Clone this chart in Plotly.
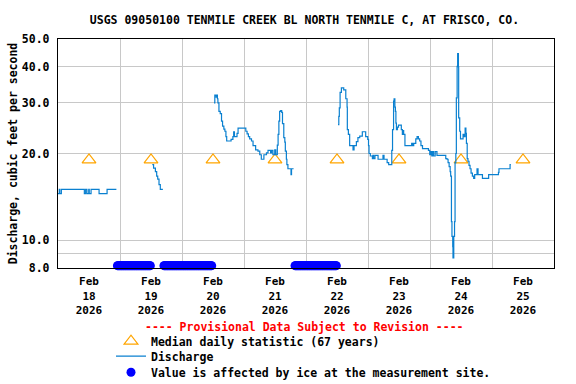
import numpy as np
import pandas as pd
import plotly.graph_objects as go

START = pd.Timestamp("2026-02-18 00:00")

# Discharge (cfs): hours after Feb 18 00:00, None = gap (ice-affected, no value)
q_hours = [
    0, 0.5, 0.7, 1.3, 10.2, 10.7, 11.2, 11.9, 12.1, 12.8, 15.9, 19.0, 22.6, 23.0,
    36.5, 37.0, 37.7, 38.2, 38.6, 39.1, 39.6, 40.6, 41.0,
    60.4, 60.7, 61.2, 61.4, 61.7, 61.9, 62.3, 62.8, 63.3, 63.7, 64.2, 64.6, 65.0, 65.3,
    67.0, 67.7, 68.0, 68.3, 69.3, 69.7, 72.7, 73.2, 73.7, 74.2, 74.9, 75.5, 76.5, 77.4,
    78.1, 78.7, 79.7, 80.7, 81.3, 82.3, 82.7, 83.2, 83.9, 84.3, 84.9, 85.2, 85.5, 85.8,
    86.2, 86.6, 86.9, 87.4, 87.8, 88.0, 88.4, 88.6, 89.0, 90.2, 90.4, 91.2, 91.6,
    108.4, 108.7, 108.9, 109.2, 109.7, 110.6, 111.4, 111.9, 112.0, 112.4, 112.9, 114.2,
    114.6, 115.5, 116.1, 116.8, 117.8, 119.1, 119.9, 120.2, 120.4, 120.9, 121.7, 121.9,
    122.2, 122.7, 123.9, 125.8, 126.2, 127.4, 128.0, 129.2, 129.5, 129.9, 130.1, 130.4,
    130.6, 130.8, 131.0, 131.4, 131.8, 132.9, 133.3, 133.6, 133.8, 134.3, 136.9, 137.3,
    137.7, 138.5, 139.0, 139.5, 140.0, 140.5, 141.1, 143.4, 143.9, 144.3, 144.7, 145.1,
    145.4, 146.0, 146.7, 150.1, 150.6, 151.0, 151.4, 151.8, 152.0, 152.3, 152.5, 152.8,
    152.9, 153.2, 153.5, 153.7, 154.0, 154.2, 154.5, 154.7, 155.0, 155.1, 155.5, 155.8,
    156.8, 157.2, 157.6, 157.9, 158.1, 158.4, 158.7, 159.1, 159.5, 159.9, 160.4, 160.9,
    161.3, 162.2, 162.6, 164.3, 166.7, 170.5, 170.7, 175.0, 175.3,
]
q_values = [
    14.5, 15.0, 14.5, 15.0, 14.5, 15.0, 14.5, 15.0, 14.5, 15.0, 14.5, 15.0, 15.0, None,
    18.3, 17.8, 17.3, 16.7, 16.3, 15.6, 15.0, 15.0, None,
    30.0, 31.9, 31.4, 31.9, 31.0, 30.0, 28.0, 27.5, 25.9, 24.9, 24.3, 23.9, 22.9, 22.1,
    22.4, 22.9, 23.8, 22.9, 23.5, 24.5, 23.9, 23.4, 22.9, 22.5, 22.1, 21.3, 20.6, 20.4,
    19.8, 19.1, 19.8, 20.1, 20.5, 20.1, 20.5, 19.8, 20.6, 19.8, 21.4, 23.3, 25.9, 28.0,
    28.2, 27.8, 25.4, 22.7, 21.9, 20.4, 19.1, 18.3, 17.7, 16.9, 17.7, 17.7, None,
    25.2, 26.9, 28.8, 32.6, 33.8, 33.3, 31.0, 29.0, 24.2, 23.3, 21.3, 20.6,
    21.3, 22.0, 22.7, 23.0, 23.8, 22.9, 22.4, 21.3, 20.0, 19.6, 19.2, 19.7,
    19.2, 19.7, 19.1, 19.7, 19.1, 18.6, 18.3, 20.5, 24.2, 30.4, 31.0, 29.0,
    28.0, 25.5, 24.2, 24.7, 25.1, 24.2, 23.3, 24.0, 23.3, 21.3, 21.7, 21.3,
    21.7, 22.5, 22.9, 22.5, 22.1, 21.3, 20.8, 20.5, 19.8, 20.3, 19.6, 20.3,
    19.6, 20.3, 19.7, 19.2, 19.1, 18.6, 18.0, 17.3, 16.7, 11.6, 10.3, 9.5,
    8.67, 10.3, 11.6, 18.6, 20.0, 31.2, 40.2, 44.5, 40.0, 26.6, 23.9, 22.5,
    23.3, 22.9, 24.5, 23.5, 21.7, 19.2, 18.8, 18.2, 17.7, 17.1, 16.7, 16.4,
    16.9, 17.7, 16.9, 16.4, 16.9, 17.2, 17.7, 18.3, 18.3,
]

# Median daily statistic (67 years), one per day, plotted at noon
median_days = ["2026-02-18", "2026-02-19", "2026-02-20", "2026-02-21",
               "2026-02-22", "2026-02-23", "2026-02-24", "2026-02-25"]
median_values = [19.0, 19.0, 19.0, 19.0, 19.0, 19.0, 19.0, 19.0]

# Ice-affected periods (start, end) at the 15-minute recording interval
ice_periods = [("2026-02-18 23:00", "2026-02-19 11:45"),
               ("2026-02-19 17:00", "2026-02-20 11:30"),
               ("2026-02-21 19:45", "2026-02-22 11:45")]
ice_level = 8.15

day_labels = ["Feb<br>18<br>2026", "Feb<br>19<br>2026", "Feb<br>20<br>2026", "Feb<br>21<br>2026",
              "Feb<br>22<br>2026", "Feb<br>23<br>2026", "Feb<br>24<br>2026", "Feb<br>25<br>2026"]
y_ticks = [8, 10, 20, 30, 40, 50]
y_ticktext = ["8.0", "10.0", "20.0", "30.0", "40.0", "50.0"]

FONT = "DejaVu Sans Mono"
GRID = "#C8C8C8"

q_times = [(START + pd.Timedelta(hours=h)).strftime("%Y-%m-%d %H:%M:%S") for h in q_hours]
median_times = [d + " 12:00" for d in median_days]
ice_times = []
for a, b in ice_periods:
    ice_times += [t.strftime("%Y-%m-%d %H:%M") for t in pd.date_range(a, b, freq="15min")]

fig = go.Figure()
fig.add_trace(go.Scatter(
    x=median_times, y=median_values, mode="markers",
    name="Median daily statistic (67 years)", legend="legend",
    marker=dict(symbol="triangle-up-open", size=12, color="#FFA500", line=dict(width=1.2, color="#FFA500")),
))
fig.add_trace(go.Scatter(
    x=q_times, y=q_values, mode="lines", name="Discharge", legend="legend2",
    line=dict(color="#0A80D0", width=1.2, shape="hv"), connectgaps=False,
))
fig.add_trace(go.Scatter(
    x=ice_times, y=[ice_level] * len(ice_times), mode="markers",
    name="Value is affected by ice at the measurement site.", legend="legend3",
    marker=dict(symbol="circle", size=9, color="#0000FF"), cliponaxis=False,
))

H = 229.0
def leg(top_px):
    return dict(x=(111 - 58) / 496, y=-(top_px - 268.3) / H,
                yanchor="top", xanchor="left", orientation="v",
                font=dict(family=FONT, size=11.5, color="black", weight="bold"),
                bgcolor="rgba(0,0,0,0)")

fig.update_layout(
    width=576, height=384,
    margin=dict(l=58, r=22, t=39, b=116, autoexpand=False),
    paper_bgcolor="white", plot_bgcolor="white",
    font=dict(family=FONT, size=11, color="black", weight="bold"),
    title=dict(text="USGS 09050100 TENMILE CREEK BL NORTH TENMILE C, AT FRISCO, CO.",
               x=0.5286, xanchor="center", y=1 - 19.5 / 384, yanchor="middle", yref="container",
               font=dict(family=FONT, size=11.5, color="black", weight="bold")),
    showlegend=True,
    legend=leg(327), legend2=leg(342), legend3=leg(358),
    annotations=[dict(text="---- Provisional Data Subject to Revision ----",
                      xref="paper", yref="paper", x=(304 - 58) / 496, y=-(327 - 268.3) / H,
                      showarrow=False, xanchor="center", yanchor="middle",
                      font=dict(family=FONT, size=11.5, color="red", weight="bold"))],
)
fig.update_xaxes(
    type="date", range=["2026-02-18", "2026-02-26"],
    tickmode="array", tickvals=median_times, ticktext=day_labels, ticks="",
    ticklabelstandoff=3,
    showgrid=False, zeroline=False,
    minor=dict(tick0="2026-02-18", dtick=86400000, showgrid=True, gridcolor=GRID, gridwidth=1, ticks=""),
    showline=True, linecolor="black", linewidth=1.3, mirror=True,
    tickfont=dict(family=FONT, size=11, color="black", weight="bold"),
)
fig.update_yaxes(
    type="log", range=[np.log10(8), np.log10(50)],
    tickmode="array", tickvals=y_ticks, ticktext=y_ticktext, ticks="",
    ticklabelstandoff=5,
    showgrid=True, gridcolor=GRID, gridwidth=1, zeroline=False,
    minor=dict(tickvals=[9], showgrid=True, gridcolor=GRID, gridwidth=1, ticks=""),
    showline=True, linecolor="black", linewidth=1.3, mirror=True,
    tickfont=dict(family=FONT, size=11.5, color="black", weight="bold"),
    title=dict(text="Discharge, cubic feet per second", standoff=1,
               font=dict(family=FONT, size=11.5, color="black", weight="bold")),
)

fig.write_html("out.html", config={"displayModeBar": False},
               post_script="document.body.style.margin='0';")
